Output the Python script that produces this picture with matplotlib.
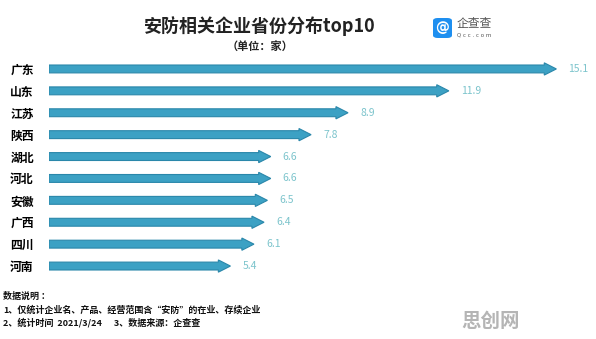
import matplotlib
matplotlib.use("Agg")
import matplotlib.pyplot as plt
from matplotlib.patches import FancyBboxPatch

plt.rcParams['font.family'] = ['Noto Sans CJK SC', 'DejaVu Sans']

provinces = ["广东", "山东", "江苏", "陕西", "湖北", "河北", "安徽", "广西", "四川", "河南"]
values = [15.1, 11.9, 8.9, 7.8, 6.6, 6.6, 6.5, 6.4, 6.1, 5.4]

bar_color = "#3ca1c4"
edge_color = "#2a87aa"
label_color = "#7cc4cc"

fig = plt.figure(figsize=(5.96, 3.39), dpi=100)
fig.patch.set_facecolor("white")

ax = fig.add_axes([49 / 596, 62 / 339, 540 / 596, 219 / 339])
ax.set_xlim(0, 540 / 33.6)
ax.set_ylim(len(provinces) - 0.5, -0.5)

for i, v in enumerate(values):
    ax.arrow(0, i, v, 0, width=0.36, head_width=0.56, head_length=0.36,
             length_includes_head=True, fc=bar_color, ec=edge_color, lw=0.8)
    ax.text(v + 0.36, i, f"{v}", va="center", ha="left",
            fontsize=7.5, color=label_color)

ax.set_yticks(range(len(provinces)))
ax.set_yticklabels(provinces, fontsize=8.5, fontweight="bold")
ax.tick_params(axis="y", length=0, pad=11)
ax.set_xticks([])
for s in ax.spines.values():
    s.set_visible(False)

# title
fig.text(260 / 596, 1 - 26 / 339, "安防相关企业省份分布top10", ha="center", va="center",
         fontsize=13, fontweight="bold", color="#222222")
fig.text(260 / 596, 1 - 46 / 339, "（单位：家）", ha="center", va="center",
         fontsize=8, fontweight="bold", color="#222222")

# logo
logo = FancyBboxPatch((433 / 596, 1 - 38 / 339), 19 / 596, 20 / 339,
                      boxstyle="round,pad=0,rounding_size=0.008",
                      transform=fig.transFigure, fc="#1e8ff0", ec="none")
fig.patches.append(logo)
fig.text(442.5 / 596, 1 - 28 / 339, "@", ha="center", va="center",
         fontsize=10, color="white", fontweight="bold", family=["DejaVu Sans"])
fig.text(457 / 596, 1 - 23 / 339, "企查查", ha="left", va="center",
         fontsize=8.5, color="#555555")
fig.text(457 / 596, 1 - 35 / 339, "Q c c . c o m", ha="left", va="center",
         fontsize=4, color="#555555", family=["DejaVu Sans"])

# footer notes
notes = ["数据说明 ：",
         "1、仅统计企业名、产品、经营范围含“安防”的在业、存续企业",
         "2、统计时间  2021/3/24      3、数据来源：企查查"]
for k, line in enumerate(notes):
    fig.text(3 / 596, 1 - (296 + 13.5 * k) / 339, line, ha="left", va="center",
             fontsize=6.5, fontweight="bold", color="#111111")

fig.text(491 / 596, 1 - 321 / 339, "思创网", ha="center", va="center",
         fontsize=14, fontweight="bold", color="#b5b5b5")

fig.savefig("out.png", dpi=100)
